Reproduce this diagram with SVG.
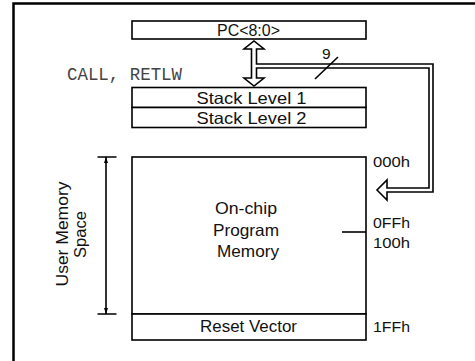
<svg xmlns="http://www.w3.org/2000/svg" width="475" height="361" viewBox="0 0 475 361">
<style>
.box{fill:#fff;stroke:#000;stroke-width:1.6}
.t{font-family:"Liberation Sans",Arial,sans-serif;font-size:16.5px;fill:#111;text-anchor:middle}
.a{font-family:"Liberation Sans",Arial,sans-serif;font-size:15.5px;fill:#111}
.m{font-family:"Liberation Mono","Courier New",monospace;font-size:17.5px;fill:#444}
.ln{fill:none;stroke:#000;stroke-width:1.6}
</style>
<rect width="475" height="361" fill="#fff"/>
<path d="M13.5,361 V3.5 H475" fill="none" stroke="#000" stroke-width="2.5"/>
<g id="pc">
<rect class="box" x="132" y="21" width="234" height="18"/>
<text class="t" x="248.5" y="35.5" textLength="63" lengthAdjust="spacingAndGlyphs">PC&lt;8:0&gt;</text>
</g>
<g id="stack1">
<rect class="box" x="132" y="87.5" width="234" height="20"/>
<text class="t" x="251.5" y="103.5" textLength="110" lengthAdjust="spacingAndGlyphs">Stack Level 1</text>
</g>
<g id="stack2">
<rect class="box" x="132" y="107.5" width="234" height="20"/>
<text class="t" x="251.5" y="123.5" textLength="110" lengthAdjust="spacingAndGlyphs">Stack Level 2</text>
</g>
<g id="memory">
<rect class="box" x="132" y="157" width="234" height="157"/>
<text class="t" x="246" y="214" textLength="62" lengthAdjust="spacingAndGlyphs">On-chip</text>
<text class="t" x="246" y="235.5" textLength="66" lengthAdjust="spacingAndGlyphs">Program</text>
<text class="t" x="248" y="256.5" textLength="62" lengthAdjust="spacingAndGlyphs">Memory</text>
<line class="ln" x1="342" y1="232" x2="366" y2="232"/>
</g>
<g id="reset">
<rect class="box" x="132" y="314" width="234" height="26"/>
<text class="t" x="248.5" y="332" textLength="97" lengthAdjust="spacingAndGlyphs">Reset Vector</text>
</g>
<g id="labels">
<text class="m" x="67" y="80" textLength="115" lengthAdjust="spacingAndGlyphs">CALL, RETLW</text>
<text class="a" x="373" y="167" textLength="37" lengthAdjust="spacingAndGlyphs">000h</text>
<text class="a" x="373" y="227.5" textLength="37" lengthAdjust="spacingAndGlyphs">0FFh</text>
<text class="a" x="373" y="247.5" textLength="37" lengthAdjust="spacingAndGlyphs">100h</text>
<text class="a" x="373" y="332" textLength="37" lengthAdjust="spacingAndGlyphs">1FFh</text>
<text class="t" x="0" y="0" transform="translate(68,234) rotate(-90)" textLength="105" lengthAdjust="spacingAndGlyphs">User Memory</text>
<text class="t" x="0" y="0" transform="translate(86,234.5) rotate(-90)" textLength="47" lengthAdjust="spacingAndGlyphs">Space</text>
</g>
<g id="connectors">
<path class="ln" d="M251.5,49 V78 H244 L254,86 L264,78 H256.5 V68 H429 V188 H387 V180 L377,190 L387,200 V192 H433 V64 H256.5 V49 H264 L254,41 L244,49 Z" fill="#fff"/>
<line class="ln" x1="315" y1="79" x2="338" y2="57"/>
<text class="a" x="322" y="59">9</text>
<path class="ln" d="M106,157 V314 M97.5,157 H116.5 M97.5,314 H116.5"/>
<path d="M106,157 l-2,6 h4 z M106,314 l-2,-6 h4 z" fill="#000"/>
</g>
</svg>
